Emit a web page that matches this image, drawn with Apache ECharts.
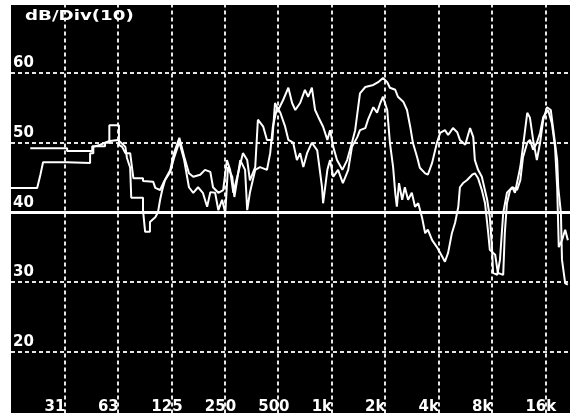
<!DOCTYPE html>
<html><head><meta charset="utf-8">
<script src="https://cdn.jsdelivr.net/npm/echarts@6/dist/echarts.min.js"></script>
<style>
html,body{margin:0;padding:0;background:#fff;width:570px;height:413px;overflow:hidden}
#chart{position:absolute;left:11px;top:5px;width:559px;height:408px;background:#000}
</style></head><body><div id="chart"></div>
<script>
// x axis: octaves above the 31.5 Hz band
const bandLabels = ['31','63','125','250','500','1k','2k','4k','8k','16k'];
const yTickLabels = [20,30,40,50,60];
const refLevel = 40;
const titleText = 'dB/Div(10)';

const octA = [-0.64,0.05,0.05,0.52,0.52,0.76,0.76,0.84,0.84,1.02,
 1.02,1.08,1.14,1.23,1.27,1.29,1.47,1.47,1.66,1.70,
 1.79,1.85,1.98,2.05,2.15,2.24,2.33,2.41,2.54,2.63,
 2.73,2.78,2.88,2.97,3.04,3.10,3.16,3.25,3.34,3.42,
 3.47,3.57,3.62,3.72,3.79,3.89,3.94,4.00,4.09,4.19,
 4.26,4.32,4.41,4.50,4.56,4.63,4.69,4.75,4.84,4.92,
 4.97,5.03,5.10,5.20,5.29,5.38,5.44,5.53,5.63,5.78,
 5.87,5.96,6.04,6.09,6.19,6.24,6.34,6.41,6.47,6.52,
 6.60,6.65,6.75,6.80,6.88,6.97,7.03,7.12,7.18,7.27,
 7.35,7.40,7.50,7.59,7.65,7.68,7.74,7.81,7.91,7.96,
 8.00,8.02,8.10,8.15,8.21,8.28,8.38,8.43,8.53,8.58,
 8.66,8.71,8.77,8.84,8.90,8.96,9.03,9.10,9.14,9.22,
 9.24,9.29,9.31,9.37,9.42];
const dbA = [49.2,49.2,48.8,48.8,49.5,49.5,50.0,50.0,52.5,52.5,
 49.7,49.4,48.5,48.5,46.1,44.9,44.9,44.5,44.4,43.5,
 43.2,44.2,46.1,48.5,50.7,48.0,45.6,45.1,45.4,46.1,
 45.8,43.6,42.8,43.2,47.5,46.1,42.8,45.6,48.5,47.5,
 44.6,46.5,53.3,52.3,50.4,50.4,55.7,54.7,56.1,57.9,
 55.7,54.7,55.7,57.6,56.6,57.9,54.7,53.7,52.3,50.4,
 51.8,49.4,47.5,46.1,47.5,50.0,51.8,57.1,58.0,58.3,
 58.7,59.3,58.7,57.9,57.6,56.6,55.9,54.7,52.3,50.0,
 47.9,46.4,45.6,45.4,47.1,50.0,51.4,51.8,51.1,52.1,
 51.5,50.4,49.7,52.1,50.8,47.5,46.1,45.1,41.8,39.3,
 35.0,31.3,31.0,33.2,39.9,42.8,43.6,42.8,46.5,49.4,
 54.3,53.6,50.4,47.5,50.0,53.3,55.1,54.7,52.3,47.5,
 43.6,39.9,33.2,29.8,29.6];

const octB = [-1.00,-0.51,-0.45,-0.40,0.05,0.05,0.48,0.48,0.54,0.54,
 0.67,0.82,1.00,1.06,1.14,1.17,1.23,1.25,1.47,1.47,
 1.51,1.60,1.60,1.70,1.75,1.79,1.83,1.88,1.98,2.05,
 2.15,2.24,2.33,2.41,2.50,2.59,2.67,2.73,2.82,2.88,
 2.95,3.01,3.06,3.14,3.18,3.29,3.38,3.42,3.47,3.57,
 3.66,3.79,3.85,3.90,3.98,4.04,4.13,4.19,4.28,4.35,
 4.41,4.47,4.54,4.63,4.73,4.82,4.84,4.92,4.97,5.03,
 5.12,5.21,5.31,5.38,5.48,5.53,5.63,5.68,5.78,5.85,
 5.91,5.96,6.04,6.09,6.15,6.19,6.22,6.26,6.32,6.37,
 6.43,6.50,6.56,6.62,6.69,6.75,6.80,6.88,6.97,7.07,
 7.12,7.18,7.25,7.31,7.37,7.40,7.46,7.53,7.63,7.68,
 7.74,7.81,7.87,7.93,7.96,8.06,8.11,8.21,8.24,8.28,
 8.34,8.39,8.47,8.53,8.58,8.66,8.71,8.77,8.84,8.90,
 8.96,9.05,9.12,9.18,9.22,9.25,9.31,9.37,9.42];
const dbB = [43.5,43.5,45.4,47.2,47.2,47.1,47.1,48.5,48.5,49.4,
 49.7,50.2,50.4,50.0,49.4,47.8,46.4,42.1,42.1,40.3,
 37.2,37.2,38.6,39.3,40.0,41.8,43.2,44.6,45.8,47.8,
 50.1,47.5,43.6,42.8,43.6,42.8,40.8,42.9,42.8,40.3,
 41.8,39.9,46.5,45.1,42.2,47.5,46.1,40.3,42.8,46.1,
 46.5,46.1,48.5,52.3,55.1,54.3,52.3,50.4,50.0,47.5,
 48.5,46.5,48.5,50.0,48.9,43.6,41.3,46.1,47.5,45.1,
 46.1,44.2,46.1,49.4,50.8,51.8,52.1,53.3,55.1,54.3,
 55.7,56.6,54.7,50.0,46.5,42.8,40.8,44.2,41.8,43.6,
 41.8,42.8,40.8,41.3,39.3,37.0,37.5,36.0,35.0,33.6,
 32.9,34.2,37.0,38.5,40.8,43.6,44.2,44.6,45.4,45.6,
 44.9,43.2,41.3,37.0,34.6,33.9,31.3,31.0,37.0,41.3,
 43.2,43.6,43.2,44.6,47.9,50.0,50.4,49.0,50.0,51.4,
 53.7,54.7,52.8,49.4,43.6,35.0,36.0,37.5,36.0];

const FONT = '"DejaVu Sans", sans-serif';
const chart = echarts.init(document.getElementById('chart'), null, {renderer: 'canvas'});
const gridLine = {show: true, showMinLine: false, showMaxLine: false,
  lineStyle: {color: '#e6e6e6', width: 2, type: [4, 3]}};
chart.setOption({
  animation: false,
  backgroundColor: 'transparent',
  grid: {left: 0, right: 0, top: -1.5, bottom: -8.1, outerBoundsMode: 'none', containLabel: false},
  graphic: [{
    type: 'text', x: 14, y: 4, scaleX: 1.3, z: 10,
    style: {text: titleText, fill: '#fff', fontFamily: FONT, fontSize: 14, fontWeight: 'bold', textVerticalAlign: 'top'}
  }],
  xAxis: {
    type: 'value', min: -1, max: 9.46, interval: 1,
    axisLine: {show: false}, axisTick: {show: false},
    splitLine: gridLine,
    axisLabel: {
      inside: true, margin: 6, showMinLabel: false, showMaxLabel: false,
      formatter: v => {
        const i = Math.round(v);
        if (Math.abs(v - i) > 1e-6 || i < 0 || i >= bandLabels.length) return '';
        return '{t|' + bandLabels[i] + '}';
      },
      rich: {t: {width: 40, align: 'left', color: '#fff', fontFamily: FONT, fontSize: 15, fontWeight: 'bold'}}
    }
  },
  yAxis: {
    type: 'value', min: 10, max: 70, interval: 10,
    axisLine: {show: false}, axisTick: {show: false},
    splitLine: gridLine,
    axisLabel: {
      inside: true, margin: 2, verticalAlign: 'bottom', padding: [0, 0, 2, 0],
      color: '#fff', fontFamily: FONT, fontSize: 15, fontWeight: 'bold',
      showMinLabel: false, showMaxLabel: false,
      formatter: v => yTickLabels.includes(v) ? String(v) : ''
    }
  },
  series: [
    {
      type: 'line', showSymbol: false, silent: true,
      lineStyle: {color: '#fff', width: 2},
      data: octA.map((o, i) => [o, dbA[i]]),
      markLine: {
        silent: true, symbol: 'none', label: {show: false},
        lineStyle: {color: '#fff', width: 3, type: 'solid'},
        data: [{yAxis: refLevel}]
      }
    },
    {
      type: 'line', showSymbol: false, silent: true,
      lineStyle: {color: '#fff', width: 2},
      data: octB.map((o, i) => [o, dbB[i]])
    }
  ]
});
</script></body></html>
